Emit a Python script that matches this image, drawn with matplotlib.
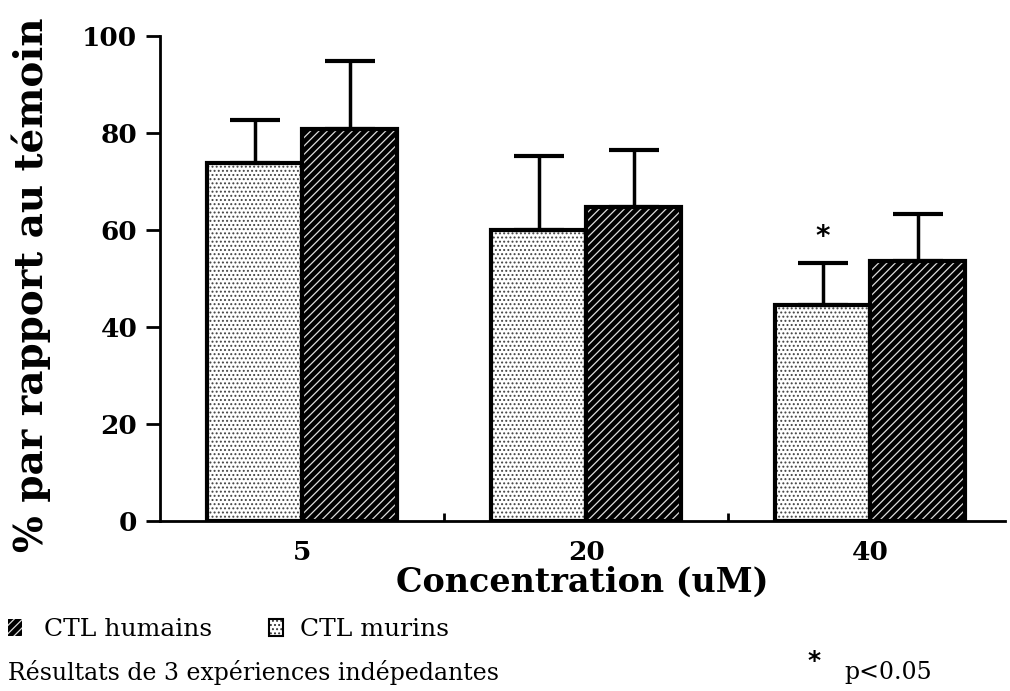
import numpy as np
import matplotlib
matplotlib.use("Agg")
from matplotlib import pyplot as plt
from matplotlib.patches import Rectangle

# data
concentrations = ["5", "20", "40"]
murins = [73.8, 60.0, 44.5]
murins_err = [8.9, 15.3, 8.7]
humains = [80.8, 64.7, 53.6]
humains_err = [14.0, 11.8, 9.7]
significant = [False, False, True]

plt.rcParams["font.family"] = ["DejaVu Serif"]
plt.rcParams["hatch.linewidth"] = 0.9

fig = plt.figure(figsize=(10.1, 6.91), dpi=100)
ax = fig.add_axes([0.158, 0.246, 0.837, 0.702])

x = np.arange(len(concentrations))
w = 0.335

# murins: light dotted bars
ax.bar(x - w / 2, murins, w, color="white", edgecolor="#444444", hatch="....", linewidth=0)
ax.bar(x - w / 2, murins, w, fill=False, edgecolor="black", linewidth=3)
# humains: black bars with thin white diagonal stripes
ax.bar(x + w / 2, humains, w, color="black", edgecolor="#dddddd", hatch="////", linewidth=0)
ax.bar(x + w / 2, humains, w, fill=False, edgecolor="black", linewidth=3)

ax.errorbar(x - w / 2, murins, yerr=[np.zeros(3), murins_err], fmt="none",
            ecolor="black", elinewidth=2.5, capsize=18, capthick=3)
ax.errorbar(x + w / 2, humains, yerr=[np.zeros(3), humains_err], fmt="none",
            ecolor="black", elinewidth=2.5, capsize=18, capthick=3)

for i, s in enumerate(significant):
    if s:
        ax.text(x[i] - w / 2, murins[i] + murins_err[i] + 2.5, "*", ha="center",
                va="bottom", fontsize=20, fontweight="bold", family="DejaVu Sans")

ax.set_xlim(-0.503, 2.475)
ax.set_ylim(0, 100)
ax.set_yticks([0, 20, 40, 60, 80, 100])
ax.set_xticks(x)
ax.set_xticklabels(concentrations, fontsize=19, fontweight="bold")
ax.set_xticks([0.5, 1.5], minor=True)
ax.tick_params(axis="x", which="major", length=0, pad=14)
ax.tick_params(axis="x", which="minor", direction="in", length=6, width=2)
ax.tick_params(axis="y", length=10, width=2, labelsize=19, pad=6)
for lab in ax.get_yticklabels():
    lab.set_fontweight("bold")

for side in ["top", "right"]:
    ax.spines[side].set_visible(False)
for side in ["left", "bottom"]:
    ax.spines[side].set_linewidth(2)

ax.set_ylabel("% par rapport au témoin", fontsize=28, fontweight="bold")
ax.yaxis.set_label_coords(-0.128, 0.487)
ax.set_xlabel("Concentration (uM)", fontsize=24, fontweight="bold", labelpad=0)

# legend and notes below the chart
fig.patches.append(Rectangle((0.008, 0.080), 0.014, 0.024, transform=fig.transFigure,
                             facecolor="black", edgecolor="#dddddd", hatch="////", linewidth=0))
fig.patches.append(Rectangle((0.266, 0.080), 0.014, 0.024, transform=fig.transFigure,
                             facecolor="white", edgecolor="#333333", hatch="....", linewidth=0))
fig.patches.append(Rectangle((0.266, 0.080), 0.014, 0.024, transform=fig.transFigure,
                             fill=False, edgecolor="black", linewidth=1.5))
fig.text(0.044, 0.089, "CTL humains", fontsize=18, va="center")
fig.text(0.297, 0.089, "CTL murins", fontsize=18, va="center")
fig.text(0.008, 0.027, "Résultats de 3 expériences indépedantes", fontsize=17, va="center")
fig.text(0.800, 0.044, "*", fontsize=18, fontweight="bold", va="center", family="DejaVu Sans")
fig.text(0.836, 0.027, "p<0.05", fontsize=17, va="center")

fig.savefig("out.png", dpi=100)
